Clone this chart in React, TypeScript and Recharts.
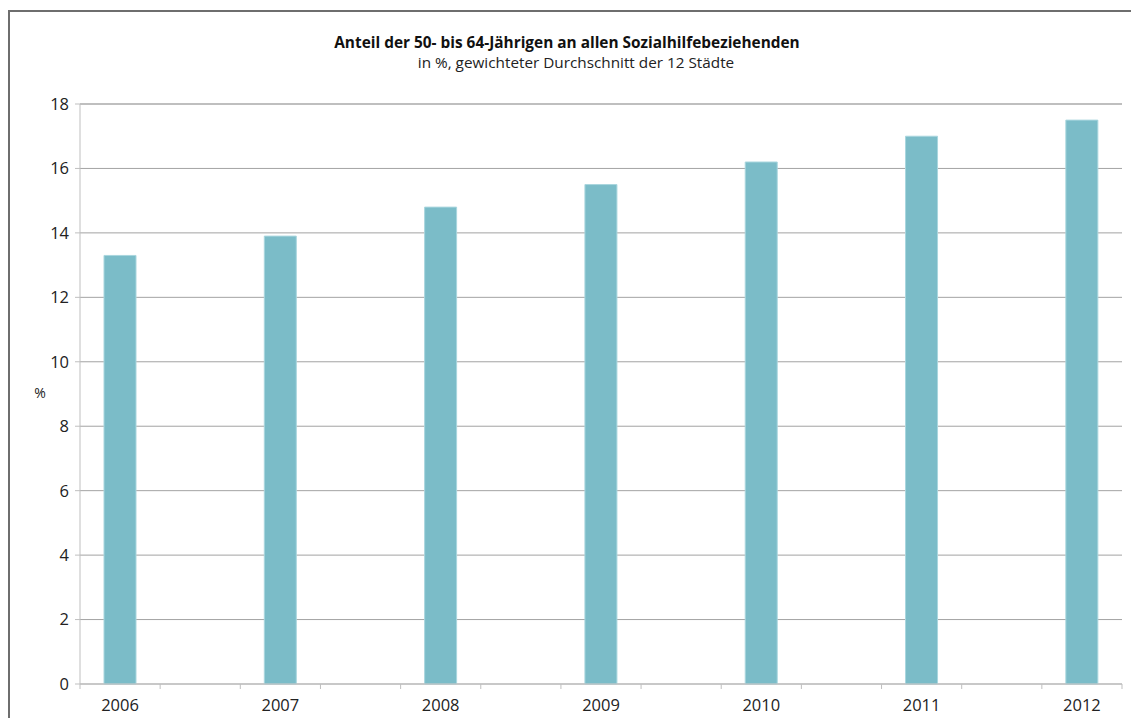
import React from "react";
import { BarChart, Bar, XAxis, YAxis, CartesianGrid, ReferenceLine } from "recharts";

const years = ["2006", "2007", "2008", "2009", "2010", "2011", "2012"];
const shares = [13.3, 13.9, 14.8, 15.5, 16.2, 17.0, 17.5];
const yTicks = [0, 2, 4, 6, 8, 10, 12, 14, 16, 18];
const titleText = "Anteil der 50- bis 64-Jährigen an allen Sozialhilfebeziehenden";
const subtitleText = "in %, gewichteter Durchschnitt der 12 Städte";

// interleave each year with an empty spacer slot (as in the original axis)
const rows: { cat: string; value: number | null }[] = [];
years.forEach((y, i) => {
  rows.push({ cat: y, value: shares[i] });
  if (i < years.length - 1) rows.push({ cat: " " + i, value: null });
});

const W = 1129;
const H = 706;
const M = { top: 92, right: 17, bottom: 0, left: 0 };
const Y_W = 70;
const PLOT_W = W - M.left - M.right - Y_W;
const BAND = PLOT_W / rows.length;
const FONT = "'Open Sans', sans-serif";
const AXIS = "#bfbfbf";
const GRID = "#a3a3a3";

const XTick = (props: any) => {
  const { x, y, payload, index } = props;
  const label = String(payload.value);
  const show = !label.startsWith(" ");
  const left = x - BAND / 2;
  return (
    <g>
      <line x1={left} x2={left} y1={y} y2={y + 5} stroke={AXIS} strokeWidth={1} />
      {index === rows.length - 1 && (
        <line x1={x + BAND / 2} x2={x + BAND / 2} y1={y} y2={y + 5} stroke={AXIS} strokeWidth={1} />
      )}
      {show && (
        <text x={x} y={y + 27} textAnchor="middle" fontSize={16.5} fontFamily={FONT} fill="#222">
          {label}
        </text>
      )}
    </g>
  );
};

export default function App() {
  return (
    <div
      style={{
        marginTop: 2,
        borderTop: "2px solid #6e6e6e",
        borderLeft: "2px solid #6e6e6e",
        width: W,
        height: H,
      }}
    >
      <BarChart width={W} height={H} data={rows} margin={M}>
        <text x={557} y={36} textAnchor="middle" fontSize={15.4} fontWeight={700} fontFamily={FONT} fill="#111">
          {titleText}
        </text>
        <text x={566} y={56} textAnchor="middle" fontSize={15.3} fontFamily={FONT} fill="#222">
          {subtitleText}
        </text>
        <text x={30} y={386} textAnchor="middle" fontSize={14} fontFamily={FONT} fill="#222">
          %
        </text>
        <CartesianGrid horizontal vertical={false} stroke={GRID} />
        <XAxis
          dataKey="cat"
          height={34}
          stroke={AXIS}
          tickLine={false}
          tickSize={0}
          tickMargin={0}
          interval={0}
          tick={<XTick />}
        />
        <YAxis
          width={Y_W}
          domain={[0, 18]}
          ticks={yTicks}
          interval={0}
          stroke={AXIS}
          tickSize={5}
          tickMargin={6}
          tick={{ fontSize: 16.5, fontFamily: FONT, fill: "#222" }}
        />
        <ReferenceLine y={18} stroke={AXIS} strokeWidth={2} />
        <Bar
          dataKey="value"
          fill="#7bbcc8"
          stroke="#a9d6de"
          strokeWidth={1}
          barSize={32}
          isAnimationActive={false}
        />
      </BarChart>
    </div>
  );
}
